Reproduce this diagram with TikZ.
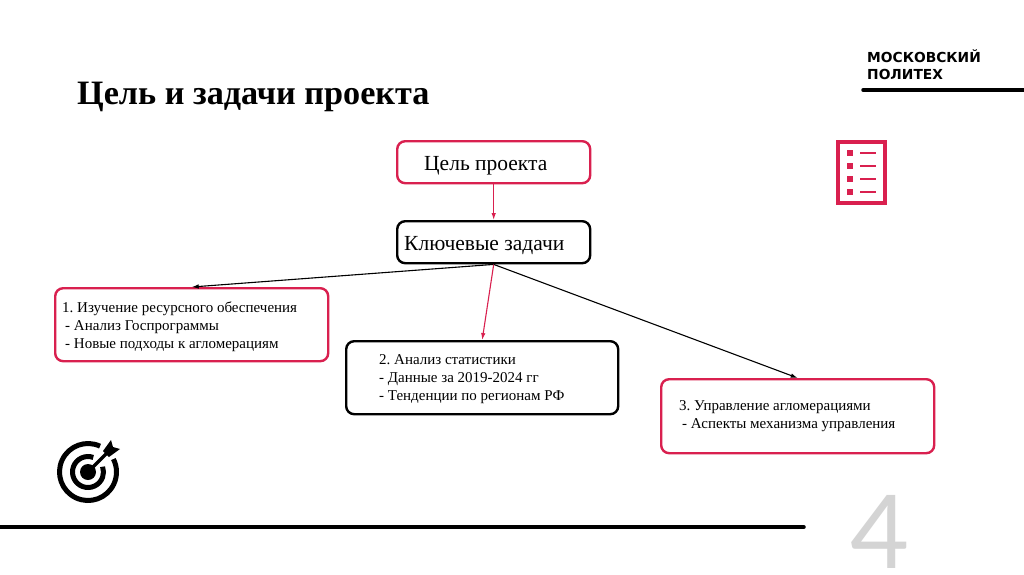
\documentclass[tikz,border=0pt]{standalone}
\usepackage{fontspec}
\usetikzlibrary{arrows.meta}
\setmainfont{Liberation Serif}
\newfontfamily\logofont{DejaVu Sans}
\newfontfamily\numfont{Lato}
\definecolor{polyred}{HTML}{D9204F}
\frenchspacing
\begin{document}
\begin{tikzpicture}[x=1pt, y=-1pt, >={Latex[length=7pt, width=4.5pt]},
          box/.style={rounded corners=8pt, line width=2.4pt, fill=white, inner sep=0pt, anchor=north west},
          redbox/.style={box, draw=polyred},
          blackbox/.style={box, draw=black},
          bigtxt/.style={anchor=west, inner sep=0pt, font=\fontsize{21.5}{25}\selectfont},
          txt/.style={anchor=west, inner sep=0pt, align=left, font=\fontsize{15}{17.8}\selectfont},
          logotxt/.style={anchor=base west, inner sep=0pt, font=\logofont\bfseries\fontsize{13.8}{18}\selectfont},
          redarr/.style={->, polyred, line width=1.1pt},
          blackarr/.style={->, black, line width=1.1pt},
          rule/.style={line width=3.5pt, line cap=round}]
        \useasboundingbox[fill=white] (0,0) rectangle (1024,574);
        \node[anchor=west, inner sep=0pt, font=\bfseries\fontsize{34.2}{40}\selectfont] (title) at (77,97) {Цель и задачи проекта};
        % Logo
        \node[logotxt] (logotop) at (867,62) {МОСКОВСКИЙ};
        \node[logotxt] (logobot) at (867,79) {ПОЛИТЕХ};
        \draw[rule] (863,90) -- (1024,90);
        \draw[rule] (0,527) -- (804,527);
        \node[anchor=base, inner sep=0pt, text=black!17, font=\numfont\fontsize{102}{105}\selectfont] (pagenum) at (880,568) {4};
        % Boxes
        \node[redbox, minimum width=193pt, minimum height=42pt] (goal) at (396,140) {};
        \node[blackbox, minimum width=193pt, minimum height=42pt] (tasks) at (396,220) {};
        \node[redbox, minimum width=273pt, minimum height=73pt] (first) at (54,287) {};
        \node[blackbox, minimum width=272pt, minimum height=73pt] (second) at (345,340) {};
        \node[redbox, minimum width=273pt, minimum height=74pt] (third) at (660,378) {};
        \node[bigtxt] (goaltxt) at (424,166) {Цель проекта};
        \node[bigtxt] (taskstxt) at (404,246) {Ключевые задачи};
        \node[txt] (firsttxt) at (62,327) {1. Изучение ресурсного обеспечения\\\hspace{3pt}- Анализ Госпрограммы\\\hspace{3pt}- Новые подходы к агломерациям};
        \node[txt] (secondtxt) at (379,379) {2. Анализ статистики\\- Данные за 2019-2024 гг\\- Тенденции по регионам РФ};
        \node[txt] (thirdtxt) at (679,416) {3. Управление агломерациями\\\hspace{3pt}- Аспекты механизма управления};
        % Connectors
        \draw[redarr] (goal.south) -- (tasks.north);
        \draw[blackarr] (tasks.south) -- (first.north);
        \draw[redarr] (tasks.south) -- (second.north);
        \draw[blackarr] (tasks.south) -- (third.north);
        % List icon
        \draw[polyred, line width=3.6pt] (838,142) rectangle (885,203);
        \foreach \y in {153,166,179,192} {
          \fill[polyred] (847,\y-3) rectangle (853,\y+3);
          \draw[polyred, line width=1.8pt] (860,\y) -- (876,\y);
        }
        % Target icon
        \fill[black] (88,472) circle (8);
        \draw[black, line width=5pt] (88,472) ++(-65:28.5) arc (-65:-387:28.5);
        \draw[black, line width=5pt] (88,472) ++(-70:15.5) arc (-70:-380:15.5);
        \draw[black, line width=3.5pt] (88,472) -- (108,452);
        \fill[black] (103,451) -- (111,440) -- (113,447) -- (120,449) -- (109,457) -- cycle;
      \end{tikzpicture}
\end{document}
